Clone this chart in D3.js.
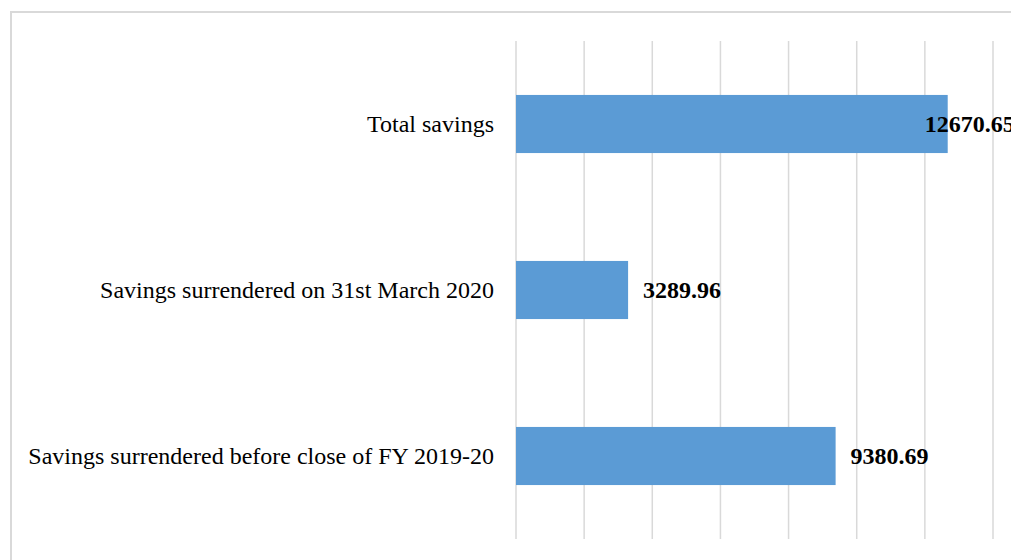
<!DOCTYPE html>
<html>
<head>
<meta charset="utf-8">
<script src="https://cdn.jsdelivr.net/npm/d3@7"></script>
<style>
  body { margin: 0; background: #fff; }
  svg { display: block; }
</style>
</head>
<body>
<script>
var categorias = ["Total savings", "Savings surrendered on 31st March 2020", "Savings surrendered before close of FY 2019-20"];
var valores = [12670.65, 3289.96, 9380.69];
var ticks = [0, 2000, 4000, 6000, 8000, 10000, 12000, 14000];

var w = 1011;
var h = 560;

var svg = d3.select("body")
    .append("svg")
    .attr("width", w)
    .attr("height", h);

// marco del grafico
svg.append("rect")
    .attr("x", 11)
    .attr("y", 12)
    .attr("width", 1200)
    .attr("height", 1000)
    .attr("fill", "none")
    .attr("stroke", "#d9d9d9")
    .attr("stroke-width", 2);

var x = d3.scaleLinear()
    .domain([0, 14000])
    .range([516, 993]);

var y = d3.scaleBand()
    .domain(categorias)
    .range([41, 539])
    .paddingInner(0.65)
    .paddingOuter(0.325);

// lineas de division
svg.selectAll("line.grid")
    .data(ticks)
    .enter()
    .append("line")
    .attr("class", "grid")
    .attr("x1", function(d) { return x(d); })
    .attr("x2", function(d) { return x(d); })
    .attr("y1", 41)
    .attr("y2", 539)
    .attr("stroke", "#d9d9d9")
    .attr("stroke-width", 1.5);

svg.selectAll("rect.bar")
    .data(valores)
    .enter()
    .append("rect")
    .attr("class", "bar")
    .attr("x", x(0))
    .attr("y", function(d, i) { return y(categorias[i]); })
    .attr("width", function(d) { return x(d) - x(0); })
    .attr("height", y.bandwidth())
    .attr("fill", "#5b9bd5");

// etiquetas de categoria
svg.selectAll("text.cat")
    .data(categorias)
    .enter()
    .append("text")
    .attr("class", "cat")
    .text(function(d) { return d; })
    .attr("x", 494)
    .attr("y", function(d) { return y(d) + y.bandwidth() / 2; })
    .attr("dy", "0.35em")
    .attr("text-anchor", "end")
    .attr("font-family", "'Liberation Serif', 'Times New Roman', serif")
    .attr("font-size", 24)
    .attr("fill", "#000");

// etiquetas de valor
svg.selectAll("text.val")
    .data(valores)
    .enter()
    .append("text")
    .attr("class", "val")
    .text(function(d) { return d.toFixed(2); })
    .attr("y", function(d, i) { return y(categorias[i]) + y.bandwidth() / 2; })
    .attr("dy", "0.35em")
    .attr("font-family", "'Liberation Serif', 'Times New Roman', serif")
    .attr("font-size", 24)
    .attr("font-weight", "bold")
    .attr("fill", "#000")
    .attr("x", function(d) {
        var tw = this.getComputedTextLength();
        if (x(d) + 15 + tw > w) return x(d) - 23; // no cabe: se mete sobre la barra
        return x(d) + 15;
    });
</script>
</body>
</html>
